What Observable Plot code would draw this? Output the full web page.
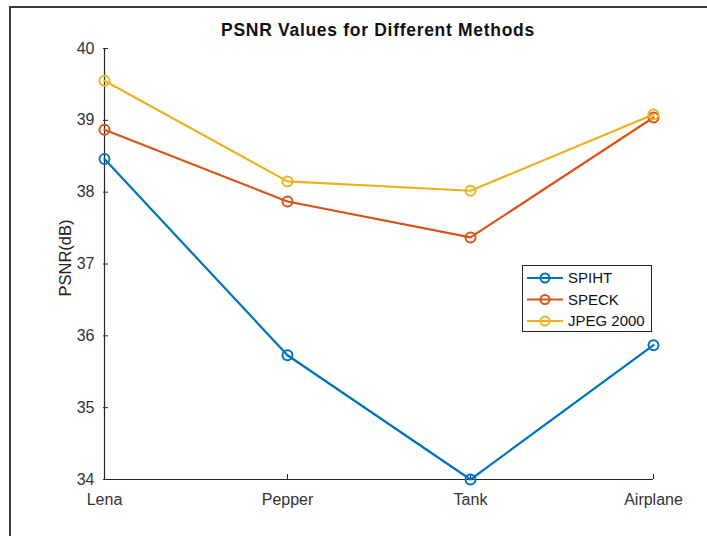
<!DOCTYPE html>
<html>
<head>
<meta charset="utf-8">
<script src="https://cdn.jsdelivr.net/npm/d3@7"></script>
<script src="https://cdn.jsdelivr.net/npm/@observablehq/plot@0.6"></script>
<style>
  html, body { margin: 0; padding: 0; background: #fff; }
  #wrap { position: relative; width: 707px; height: 536px; overflow: hidden; font-family: "Liberation Sans", Arial, sans-serif; }
  #frame { position: absolute; left: 9px; top: 6px; width: 800px; height: 600px; border-left: 2px solid #3a3a3a; border-top: 2px solid #3a3a3a; }
  #title { position: absolute; left: 103px; width: 550px; top: 20px; text-align: center; font-weight: bold; font-size: 17.5px; letter-spacing: 0.7px; color: #111; }
  #legend { position: absolute; left: 0; top: 0; }
</style>
</head>
<body>
<div id="wrap">
  <div id="frame"></div>
  <div id="chart"></div>
  <div id="title">PSNR Values for Different Methods</div>
</div>
<script>
const images = ["Lena", "Pepper", "Tank", "Airplane"];
const spiht = [38.46, 35.73, 34.00, 35.87];
const speck = [38.87, 37.87, 37.37, 39.04];
const jpeg2000 = [39.55, 38.15, 38.02, 39.08];
const seriesNames = ["SPIHT", "SPECK", "JPEG 2000"];
const seriesColors = ["#0072BD", "#D95319", "#EDB120"];
const yTicks = [34, 35, 36, 37, 38, 39, 40];

const seriesValues = [spiht, speck, jpeg2000];
const rows = [];
seriesNames.forEach((s, i) => images.forEach((img, j) => rows.push({series: s, image: img, psnr: seriesValues[i][j]})));

const axisColor = "#262626";
const chart = Plot.plot({
  width: 707,
  height: 536,
  marginLeft: 103,
  marginRight: 54,
  marginTop: 48,
  marginBottom: 57,
  style: {fontFamily: "'Liberation Sans', Arial, sans-serif", background: "transparent", color: axisColor},
  x: {type: "point", domain: images, padding: 0},
  y: {domain: [34, 40]},
  color: {domain: seriesNames, range: seriesColors},
  marks: [
    Plot.ruleX([images[0]], {stroke: axisColor, strokeWidth: 1.2}),
    Plot.ruleY([34], {stroke: axisColor, strokeWidth: 1.2}),
    Plot.axisY(yTicks, {tickSize: -5, tickPadding: 14, tickFormat: d3.format("d"), fontSize: 16, label: null, stroke: axisColor, color: "#333"}),
    Plot.axisX(images, {tickSize: -5, tickPadding: 19, fontSize: 16, label: null, stroke: axisColor, color: "#333"}),
    Plot.line(rows, {x: "image", y: "psnr", z: "series", stroke: "series", strokeWidth: 2.2}),
    Plot.dot(rows, {x: "image", y: "psnr", stroke: "series", r: 5, strokeWidth: 2, fill: "none"}),
    Plot.text(["PSNR(dB)"], {text: d => d, frameAnchor: "left", textAnchor: "middle", dx: -38, dy: -6, rotate: -90, fontSize: 16.5, fill: "#222"})
  ]
});
document.getElementById("chart").appendChild(chart);

// Legend (overlay)
const lg = d3.select("#wrap").append("svg").attr("id", "legend").attr("width", 707).attr("height", 536);
lg.append("rect").attr("x", 522.5).attr("y", 265.5).attr("width", 129).attr("height", 66)
  .attr("fill", "#fff").attr("stroke", "#262626").attr("stroke-width", 1);
seriesNames.forEach((s, i) => {
  const y = 278 + i * 21.5;
  const g = lg.append("g");
  g.append("line").attr("x1", 527).attr("x2", 563).attr("y1", y).attr("y2", y).attr("stroke", seriesColors[i]).attr("stroke-width", 2);
  g.append("circle").attr("cx", 545).attr("cy", y).attr("r", 4.5).attr("fill", "none").attr("stroke", seriesColors[i]).attr("stroke-width", 2);
  g.append("text").attr("x", 568).attr("y", y).attr("dy", "0.36em").attr("font-size", 15)
    .attr("font-family", "'Liberation Sans', Arial, sans-serif").attr("fill", "#111").text(s);
});
</script>
</body>
</html>
